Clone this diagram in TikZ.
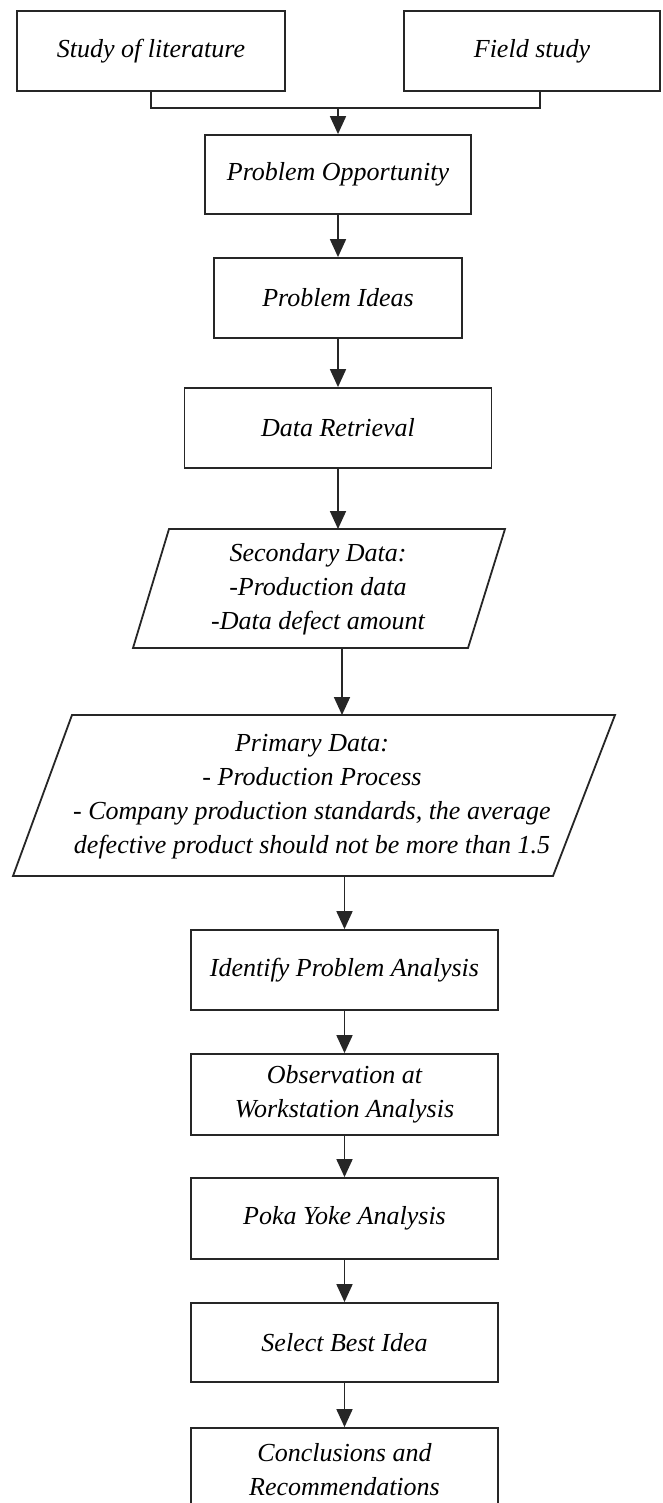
\documentclass[tikz,border=0pt]{standalone}
\usepackage{fontspec}
\setmainfont{Liberation Serif}
\usetikzlibrary{arrows.meta}
\tikzset{
  line/.style={draw=black!85, line width=1.8pt},
  arr/.style={line, -{Triangle[width=16pt,length=18pt]}},
  box/.style={line, rectangle, inner sep=0pt, align=center,
    font=\fontsize{26pt}{34pt}\selectfont\itshape},
  txt/.style={inner sep=0pt, align=center,
    font=\fontsize{26pt}{34pt}\selectfont\itshape}
}
\begin{document}
\begin{tikzpicture}[x=1pt,y=-1pt]
\useasboundingbox (0,0) rectangle (662,1503);
\fill[white] (0,0) rectangle (662,1503);

% top boxes
\node[box, minimum width=268pt, minimum height=80pt] (sl) at (151,51) {Study of literature};
\node[box, minimum width=256pt, minimum height=80pt] (fs) at (532,51) {Field study};
\coordinate (jn) at (338,108);
\coordinate (fsb) at (540,91);

\node[box, minimum width=266pt, minimum height=79pt] (po) at (338,174.5) {Problem Opportunity};
\node[box, minimum width=248pt, minimum height=80pt] (pi) at (338,298) {Problem Ideas};
\node[box, minimum width=307pt, minimum height=80pt] (dr) at (338,428) {Data Retrieval};

% secondary data parallelogram
\coordinate (secT) at (338,529);
\coordinate (secB) at (342,648);
\draw[line, line join=miter] (169,529) -- (505,529) -- (468,648) -- (133,648) -- cycle;
\node[txt] (sec) at (318,589) {Secondary Data:\\-Production data\\-Data defect amount};

% primary data parallelogram
\coordinate (priT) at (342,715);
\coordinate (priB) at (344.5,876);
\draw[line, line join=miter] (72,715) -- (615,715) -- (553,876) -- (13,876) -- cycle;
\node[txt] (pri) at (312,797) {Primary Data:\\- Production Process\\- Company production standards, the average\\defective product should not be more than 1.5};

\node[box, minimum width=307pt, minimum height=80pt] (id) at (344.5,970) {Identify Problem Analysis};
\node[box, minimum width=307pt, minimum height=81pt] (ob) at (344.5,1094.5) {Observation at\\Workstation Analysis};
\node[box, minimum width=307pt, minimum height=81pt] (pk) at (344.5,1218.5) {Poka Yoke Analysis};
\node[box, minimum width=307pt, minimum height=79pt] (sb) at (344.5,1342.5) {Select Best Idea};
\node[box, minimum width=307pt, minimum height=84pt] (cr) at (344.5,1470) {Conclusions and\\Recommendations};

% connectors
\draw[line] (sl.south) |- (jn) -| (fsb);
\draw[arr] (jn) -- (po.north);
\draw[arr] (po) -- (pi);
\draw[arr] (pi) -- (dr);
\draw[arr] (dr) -- (secT);
\draw[arr] (secB) -- (priT);
\draw[arr] (priB) -- (id.north);
\draw[arr] (id) -- (ob);
\draw[arr] (ob) -- (pk);
\draw[arr] (pk) -- (sb);
\draw[arr] (sb) -- (cr);
\end{tikzpicture}
\end{document}
